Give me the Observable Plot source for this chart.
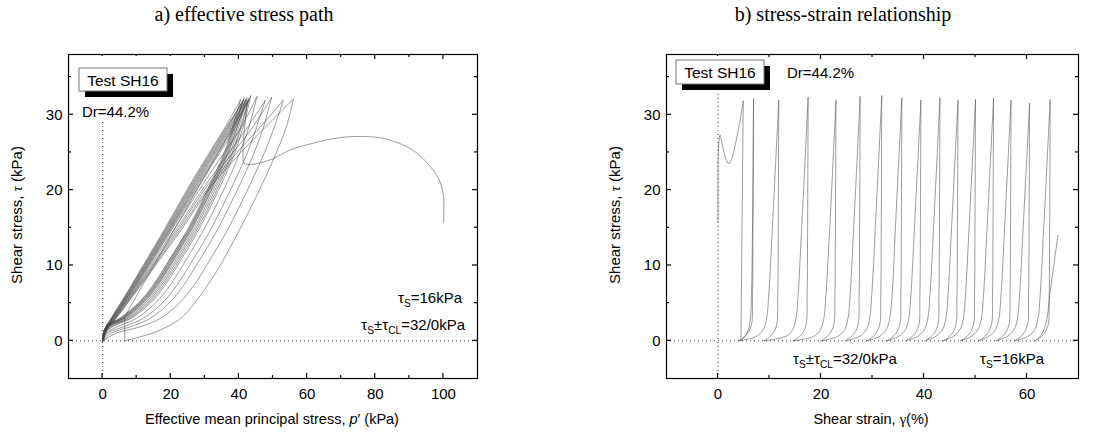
<!DOCTYPE html>
<html><head><meta charset="utf-8">
<script src="https://cdn.jsdelivr.net/npm/d3@7"></script>
<script src="https://cdn.jsdelivr.net/npm/@observablehq/plot@0.6"></script>
<style>
html,body{margin:0;padding:0;background:#fff;}
#root{position:relative;width:1117px;height:435px;overflow:hidden;}
.panel{position:absolute;top:0;}
#overlay{position:absolute;left:0;top:0;pointer-events:none;}
</style></head>
<body><div id="root"></div>
<script>
// ---------- Panel a: effective stress path (p', tau) ----------
const initPathP   = [100, 100, 98.4, 95.8, 92.3, 88.7, 85.2, 80.8, 76.4, 73, 68.6, 64.2, 59.8, 55.4, 52.2, 49.7, 46, 43, 41.5, 41.2, 41.6, 42.5];
const initPathTau = [15.7, 19.3, 21.7, 23.3, 24.9, 25.9, 26.5, 27.0, 27.1, 27.1, 26.9, 26.5, 26.0, 25.4, 24.7, 24.1, 23.6, 23.4, 23.6, 25.0, 28.0, 31.8];
const firstUnloadP   = [42.5, 6.5, 6.5];
const firstUnloadTau = [31.8, 3.2, 0];
const peakTau = [32.1, 31.9, 32.3, 31.9, 32.4, 32.5, 32.2, 31.9, 32.2, 31.9, 32.0, 32.2, 31.9, 31.5, 32.0];
const tauLoadLevelsA   = [0, 1, 2, 3, 5, 7.5, 10, 15, 20, 25, 28.5, 32];
const tauUnloadLevelsA = [32, 28, 24, 20, 15, 10, 6, 3, 1.5, 0];
const loadP = [
  [6.5, 14.5, 19.5, 23, 27, 31, 34.5, 40.5, 46, 51, 54, 56],
  [0, 4, 12, 17, 22.5, 27, 30.5, 37, 42.5, 47.5, 50.5, 53],
  [0, 2.5, 9, 14, 19.5, 24, 27.5, 34, 39.5, 44.5, 47.3, 49.6],
  [0, 1.5, 7, 12, 17.5, 22, 25.5, 32, 37.5, 42.5, 45.3, 47.7],
  [0, 1, 5, 10, 15.5, 20, 23.5, 30, 35.5, 40.3, 43, 45.3],
  [0, 0.6, 3.5, 8.5, 14, 18.5, 22, 28.5, 34, 38.8, 41.3, 43.5],
  [0, 0.5, 3, 8, 13.5, 18, 21.5, 28, 33.5, 38.3, 40.8, 43],
  [0, 0.4, 2.5, 7.5, 13, 17.5, 21, 27.5, 33, 38, 40.5, 42.8],
  [0, 0.4, 2.3, 7, 12.5, 17, 20.5, 27, 32.5, 37.5, 40, 42.4],
  [0, 0.3, 2, 6.5, 12, 16.5, 20, 26.5, 32, 37, 39.6, 42],
  [0, 0.3, 1.8, 6.2, 11.7, 16.2, 19.7, 26.2, 31.8, 36.8, 39.5, 41.9],
  [0, 0.3, 1.6, 6, 11.5, 16, 19.5, 26, 31.5, 36.5, 39.1, 41.5],
  [0, 0.2, 1.5, 5.8, 11.2, 15.7, 19.2, 25.7, 31.2, 36.2, 38.8, 41.2],
  [0, 0.2, 1.4, 5.5, 11, 15.5, 19, 25.5, 31, 36, 38.5, 40.9],
  [0, 0.2, 1.3, 5.3, 10.7, 15.2, 18.7, 25.2, 30.7, 35.7, 38.2, 40.5]
];
const unloadP = [
  [56, 47, 38.5, 31, 23.5, 15.5, 9, 4, 1.4, 0.2],
  [53, 45.5, 37.5, 30.5, 23, 15.2, 8.8, 3.9, 1.3, 0.1],
  [49.6, 43.5, 36.5, 29.8, 22.5, 14.8, 8.6, 3.8, 1.3, 0.1],
  [47.7, 42, 35.5, 29.2, 22, 14.5, 8.4, 3.6, 1.2, 0],
  [45.3, 40.2, 34.2, 28.3, 21.3, 14.1, 8.2, 3.5, 1.1, 0],
  [43.5, 38.6, 33, 27.5, 20.7, 13.7, 8, 3.4, 1.0, 0],
  [43, 38.1, 32.6, 27.1, 20.4, 13.5, 7.8, 3.3, 1.0, 0],
  [42.8, 37.7, 32.2, 26.8, 20.1, 13.3, 7.6, 3.2, 0.9, 0],
  [42.4, 37.3, 31.8, 26.5, 19.9, 13.1, 7.5, 3.1, 0.9, 0],
  [42, 37, 31.5, 26.2, 19.7, 12.9, 7.4, 3.0, 0.8, 0],
  [41.9, 36.7, 31.2, 25.9, 19.4, 12.7, 7.2, 2.9, 0.8, 0],
  [41.5, 36.4, 30.9, 25.6, 19.2, 12.5, 7.1, 2.8, 0.7, 0],
  [41.2, 36.1, 30.6, 25.3, 18.9, 12.3, 6.9, 2.7, 0.7, 0],
  [40.9, 35.8, 30.3, 25, 18.7, 12.1, 6.8, 2.6, 0.6, 0],
  [40.5, 35.5, 30, 24.7, 18.4, 11.9, 6.6, 2.5, 0.6, 0]
];
const lastLoadP   = [0, 0.2, 1.2, 5, 10.5, 15, 18.5, 24];
const lastLoadTau = [0, 1, 2, 3, 5, 7.5, 10, 14];

// ---------- Panel b: stress-strain (gamma %, tau) ----------
const initStrain    = [0, 0, 0.1, 0.4, 0.9, 1.5, 2.1, 2.7, 3.3, 4.1, 4.9];
const initStrainTau = [15.7, 21, 25.5, 27.3, 25.8, 24.2, 23.5, 24.2, 25.9, 28.5, 31.8];
const firstUnloadStrain    = [4.9, 4.45];
const firstUnloadStrainTau = [31.8, 0];
const tauLoadLevelsB   = [0, 0.6, 1.5, 3, 6, 15, 32];
const tauUnloadLevelsB = [32, 15, 6, 2, 0.7, 0];
const loadStrain = [
  [4.45, 5.2, 5.9, 6.3, 6.5, 6.7, 6.9],
  [4.0, 7.5, 8.8, 9.45, 9.85, 10.55, 11.8],
  [8.9, 13.2, 14.5, 15.15, 15.55, 16.25, 17.5],
  [14.6, 18.6, 19.9, 20.55, 20.95, 21.7, 22.9],
  [20.0, 23.3, 24.6, 25.25, 25.65, 26.35, 27.6],
  [24.7, 27.5, 28.8, 29.45, 29.85, 30.55, 31.8],
  [28.9, 31.4, 32.7, 33.35, 33.8, 34.45, 35.7],
  [32.8, 35.1, 36.4, 37.05, 37.45, 38.15, 39.4],
  [36.5, 38.8, 40.1, 40.75, 41.15, 41.85, 43.1],
  [40.2, 42.3, 43.6, 44.25, 44.65, 45.35, 46.6],
  [43.7, 45.7, 47.0, 47.65, 48.05, 48.75, 50.0],
  [47.1, 49.2, 50.5, 51.15, 51.55, 52.25, 53.5],
  [50.6, 52.6, 53.9, 54.55, 54.95, 55.65, 56.9],
  [54.0, 56.2, 57.5, 58.15, 58.55, 59.25, 60.5],
  [57.6, 60.2, 61.5, 62.15, 62.55, 63.25, 64.5]
];
const unloadStrain = [
  [6.9, 6.8, 6.7, 6.45, 5.4, 4.0],
  [11.8, 11.7, 11.6, 11.35, 10.3, 8.9],
  [17.5, 17.4, 17.3, 17.05, 16.0, 14.6],
  [22.9, 22.8, 22.7, 22.45, 21.4, 20.0],
  [27.6, 27.5, 27.4, 27.15, 26.1, 24.7],
  [31.8, 31.7, 31.6, 31.35, 30.3, 28.9],
  [35.7, 35.6, 35.5, 35.25, 34.2, 32.8],
  [39.4, 39.3, 39.2, 38.95, 37.9, 36.5],
  [43.1, 43.0, 42.9, 42.65, 41.6, 40.2],
  [46.6, 46.5, 46.4, 46.15, 45.1, 43.7],
  [50.0, 49.9, 49.8, 49.55, 48.5, 47.1],
  [53.5, 53.4, 53.3, 53.05, 52.0, 50.6],
  [56.9, 56.8, 56.7, 56.45, 55.4, 54.0],
  [60.5, 60.4, 60.3, 60.05, 59.0, 57.6],
  [64.5, 64.4, 64.3, 64.05, 63.0, 61.6]
];
const lastLoadStrain    = [61.6, 62.6, 63.3, 63.9, 64.4, 65.2, 66.0];
const lastLoadStrainTau = [0, 0.6, 1.5, 3, 6, 10, 14];

// ---------- ticks ----------
const xMajorA = [0, 20, 40, 60, 80, 100], xMinorA = [10, 30, 50, 70, 90];
const xMajorB = [0, 20, 40, 60], xMinorB = [10, 30, 50];
const yMajor = [0, 10, 20, 30], yMinor = [5, 15, 25, 35];

// ---------- build rows ----------
function rowsFrom(segments) {
  const rows = [];
  segments.forEach((s, i) => s.x.forEach((x, j) => rows.push({x, y: s.y[j], seg: i})));
  return rows;
}
function cycleSegments(initX, initY, loadX, loadLevels, unloadX, unloadLevels, lastX, lastY) {
  const segs = [{x: initX, y: initY}];
  loadX.forEach((lx, k) => {
    const ly = loadLevels.slice(); ly[ly.length - 1] = peakTau[k];
    segs.push({x: lx, y: ly});
    const uy = unloadLevels.slice(); uy[0] = peakTau[k];
    segs.push({x: unloadX[k], y: uy});
  });
  segs.push({x: lastX, y: lastY});
  return segs;
}
const smoothA = rowsFrom(cycleSegments(initPathP, initPathTau, loadP, tauLoadLevelsA, unloadP, tauUnloadLevelsA, lastLoadP, lastLoadTau));
const straightA = rowsFrom([{x: firstUnloadP, y: firstUnloadTau}]);
const smoothB = rowsFrom(cycleSegments(initStrain, initStrainTau, loadStrain, tauLoadLevelsB, unloadStrain, tauUnloadLevelsB, lastLoadStrain, lastLoadStrainTau));
const straightB = rowsFrom([{x: firstUnloadStrain, y: firstUnloadStrainTau}]);

const sans = '"Liberation Sans", Arial, Helvetica, sans-serif';
const serif = '"Liberation Serif", "Times New Roman", serif';
const lineStyle = {stroke: "#4a4a4a", strokeWidth: 0.55};

const W = 560, H = 435, MT = 54, MB = 57;

function panel(opts) {
  return Plot.plot({
    width: W, height: H,
    marginLeft: opts.ml, marginRight: opts.mr, marginTop: MT, marginBottom: MB,
    x: {domain: opts.xDomain}, y: {domain: [-5, 38]},
    style: {fontFamily: sans, fontSize: "15px", background: "transparent", color: "#000"},
    marks: [
      Plot.ruleY([0], {stroke: "#444", strokeDasharray: "1,3"}),
      Plot.ruleX([0], {stroke: "#444", strokeDasharray: "1,3"}),
      Plot.line(opts.smooth, {x: "x", y: "y", z: "seg", curve: "catmull-rom", ...lineStyle}),
      Plot.line(opts.straight, {x: "x", y: "y", z: "seg", curve: "linear", ...lineStyle}),
      Plot.axisX({ticks: opts.xMajor, anchor: "bottom", tickSize: 0, tickPadding: 10, fontSize: 15, label: null}),
      Plot.axisY({ticks: yMajor, anchor: "left", tickSize: 0, tickPadding: 6, fontSize: 15, label: null}),
      Plot.frame({stroke: "#000", strokeWidth: 1.2})
    ]
  });
}

const root = document.getElementById("root");
const panels = [
  {left: 0, ml: 68, mr: 83, xDomain: [-10, 110], smooth: smoothA, straight: straightA, xMajor: xMajorA, xMinor: xMinorA},
  {left: 557, ml: 109, mr: 39, xDomain: [-10, 70], smooth: smoothB, straight: straightB, xMajor: xMajorB, xMinor: xMinorB}
];
panels.forEach(p => {
  p.chart = panel(p);
  const d = document.createElement("div"); d.className = "panel"; d.style.left = p.left + "px";
  d.appendChild(p.chart); root.appendChild(d);
});

// ---------- overlay: inward ticks (via Plot scales), text ----------
const svg = d3.select(root).append("svg").attr("id", "overlay").attr("width", 1117).attr("height", 435);
panels.forEach(p => {
  const sx = p.chart.scale("x"), sy = p.chart.scale("y");
  const top = MT, bottom = H - MB, left = p.left + p.ml, right = p.left + W - p.mr;
  const g = svg.append("g").attr("stroke", "#000").attr("stroke-width", 1.2);
  const xt = (vals, len) => vals.forEach(v => {
    const X = p.left + sx.apply(v);
    g.append("line").attr("x1", X).attr("x2", X).attr("y1", bottom).attr("y2", bottom - len);
    g.append("line").attr("x1", X).attr("x2", X).attr("y1", top).attr("y2", top + len);
  });
  const yt = (vals, len) => vals.forEach(v => {
    const Y = sy.apply(v);
    g.append("line").attr("y1", Y).attr("y2", Y).attr("x1", left).attr("x2", left + len);
    g.append("line").attr("y1", Y).attr("y2", Y).attr("x1", right).attr("x2", right - len);
  });
  xt(p.xMajor, 5); xt(p.xMinor, 3); yt(yMajor, 5); yt(yMinor, 3);
});

function addText(x, y, parts, o) {
  const t = svg.append("text").attr("x", x).attr("y", y)
    .attr("font-family", o.family || sans).attr("font-size", o.size)
    .attr("text-anchor", o.anchor || "start").attr("fill", "#000");
  if (o.rotate) t.attr("transform", `rotate(-90 ${x} ${y})`);
  let prevSub = false;
  parts.forEach(p => {
    const q = typeof p === "string" ? {t: p} : p;
    const ts = t.append("tspan").text(q.t);
    if (q.italic) ts.attr("font-style", "italic");
    if (q.family) ts.attr("font-family", q.family);
    if (q.sub) { ts.attr("font-size", o.size * 0.68); if (!prevSub) ts.attr("dy", 4); }
    else if (prevSub) ts.attr("dy", -4);
    prevSub = !!q.sub;
  });
  return t;
}
function box(x, y, w, h, label, cx, by) {
  svg.append("rect").attr("x", x + 6).attr("y", y + 6).attr("width", w).attr("height", h).attr("fill", "#000");
  svg.append("rect").attr("x", x).attr("y", y).attr("width", w).attr("height", h).attr("fill", "#fff").attr("stroke", "#777").attr("stroke-width", 1);
  addText(cx, by, [label], {size: 15.5, anchor: "middle"});
}

// titles
addText(244, 21, ["a) effective stress path"], {size: 20, family: serif, anchor: "middle"});
addText(843, 21, ["b) stress-strain relationship"], {size: 20, family: serif, anchor: "middle"});
// axis titles
addText(272, 424, ["Effective mean principal stress, ", {t: "p", italic: true}, "′ (kPa)"], {size: 14.5, anchor: "middle"});
addText(871, 424, ["Shear strain, ", {t: "γ", family: serif}, "(%)"], {size: 14.5, anchor: "middle"});
addText(22, 215, ["Shear stress, ", {t: "τ", italic: true, family: serif}, " (kPa)"], {size: 15, anchor: "middle", rotate: true});
addText(620, 215, ["Shear stress, ", {t: "τ", italic: true, family: serif}, " (kPa)"], {size: 15, anchor: "middle", rotate: true});

// panel a annotations
svg.append("rect").attr("x", 79).attr("y", 56).attr("width", 94).attr("height", 63).attr("fill", "#fff");
box(79, 68, 88, 23, "Test SH16", 123, 86);
addText(82, 117, ["Dr=44.2%"], {size: 15});
addText(462, 303, ["τ", {t: "S", sub: true}, "=16kPa"], {size: 15, anchor: "end"});
addText(465, 330, ["τ", {t: "S", sub: true}, "±τ", {t: "CL", sub: true}, "=32/0kPa"], {size: 15, anchor: "end"});

// panel b annotations
svg.append("rect").attr("x", 711).attr("y", 56).attr("width", 12).attr("height", 37).attr("fill", "#fff");
box(676, 60, 88, 24, "Test SH16", 720, 78);
addText(787, 78, ["Dr=44.2%"], {size: 15});
addText(793, 364, ["τ", {t: "S", sub: true}, "±τ", {t: "CL", sub: true}, "=32/0kPa"], {size: 15});
addText(980, 364, ["τ", {t: "S", sub: true}, "=16kPa"], {size: 15});
</script></body></html>
